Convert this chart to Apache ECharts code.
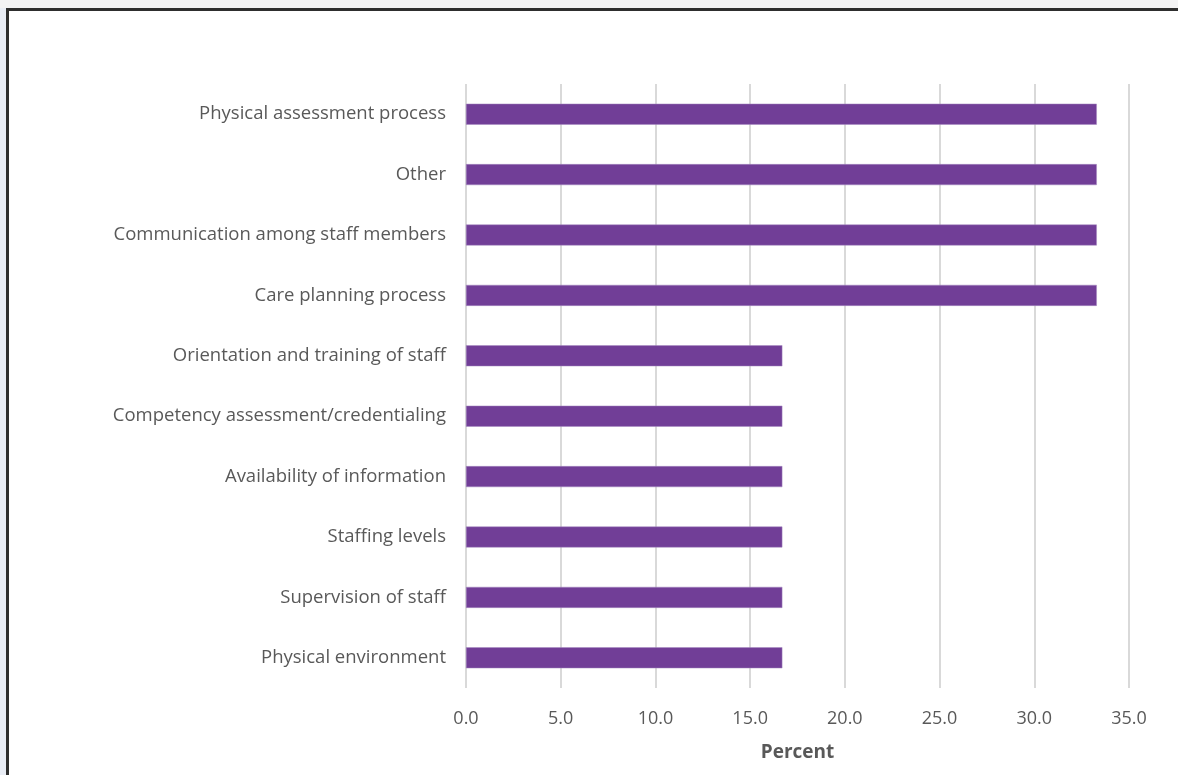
<!DOCTYPE html>
<html>
<head>
<meta charset="utf-8">
<script src="https://cdn.jsdelivr.net/npm/echarts@6/dist/echarts.min.js"></script>
<style>
  html, body { margin: 0; padding: 0; width: 1178px; height: 775px; overflow: hidden; background: #f3f3f4; }
  #frame { position: absolute; left: 6px; top: 8px; right: 0; bottom: 0; background: #fff;
           border-top: 3px solid #2e2e2e; border-left: 3px solid #2e2e2e; }
  #edge { position: absolute; left: 0; top: 8px; width: 6px; bottom: 0; background: #e9edf5; }
  #chart { position: absolute; left: 0; top: 0; width: 1178px; height: 775px; }
</style>
</head>
<body>
<div id="edge"></div>
<div id="frame"></div>
<div id="chart"></div>
<script>
// Categories listed bottom to top (category axis starts at the bottom)
const categories = [
  'Physical environment',
  'Supervision of staff',
  'Staffing levels',
  'Availability of information',
  'Competency assessment/credentialing',
  'Orientation and training of staff',
  'Care planning process',
  'Communication among staff members',
  'Other',
  'Physical assessment process'
];
const percentValues = [16.7, 16.7, 16.7, 16.7, 16.7, 16.7, 33.3, 33.3, 33.3, 33.3];
const axisName = 'Percent';

const chart = echarts.init(document.getElementById('chart'), null, { renderer: 'canvas' });
const font = '"Open Sans", Lato, sans-serif';

chart.setOption({
  animation: false,
  backgroundColor: 'transparent',
  grid: { left: 466, right: 49, top: 84, bottom: 87, containLabel: false },
  xAxis: {
    type: 'value',
    min: 0,
    max: 35,
    interval: 5,
    name: axisName,
    nameLocation: 'middle',
    nameGap: 55,
    nameTextStyle: { fontFamily: font, fontSize: 19, fontWeight: 'bold', color: '#595959' },
    axisLine: { show: false },
    axisTick: { show: false },
    axisLabel: {
      fontFamily: font, fontSize: 18, color: '#595959', margin: 22,
      formatter: v => v.toFixed(1)
    },
    splitLine: { show: true, lineStyle: { color: '#d9d9d9', width: 2 } }
  },
  yAxis: {
    type: 'category',
    data: categories,
    axisLine: { show: false },
    axisTick: { show: false },
    axisLabel: { fontFamily: font, fontSize: 18.5, color: '#595959', margin: 20, padding: [3, 0, 0, 0] },
    splitLine: { show: false }
  },
  series: [{
    type: 'bar',
    data: percentValues,
    barWidth: 21,
    itemStyle: { color: '#713e97', borderColor: '#a78bc0', borderWidth: 0.5 }
  }]
});
</script>
</body>
</html>
